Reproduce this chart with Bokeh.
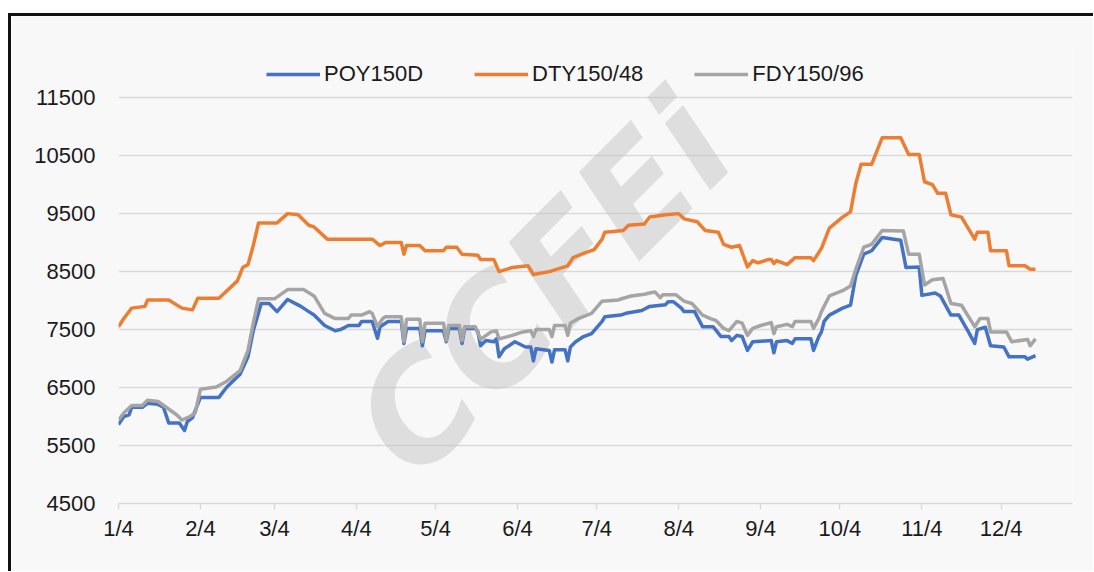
import pandas as pd
from bokeh.plotting import figure
from bokeh.models import Range1d, FixedTicker, Legend, LegendItem, Label
from bokeh.embed import file_html
from bokeh.resources import INLINE

YEAR = "2021"

# ---- x axis ticks (month/day) ----
x_tick_dates = ["01-04", "02-04", "03-04", "04-04", "05-04", "06-04",
                "07-04", "08-04", "09-04", "10-04", "11-04", "12-04"]
x_tick_labels = ["1/4", "2/4", "3/4", "4/4", "5/4", "6/4",
                 "7/4", "8/4", "9/4", "10/4", "11/4", "12/4"]
x_start, x_end = "01-04", "12-31"

y_ticks = [4500, 5500, 6500, 7500, 8500, 9500, 10500, 11500]
y_top = 12400  # head room above the top tick, where the legend sits

# ---- POY150D ----
poy_dates = ["01-04", "01-06", "01-08", "01-09", "01-13", "01-15", "01-19", "01-21", "01-23", "01-27", "01-29", "01-30",
             "02-01", "02-04", "02-11", "02-14", "02-19", "02-22", "02-24", "02-27",
             "03-02", "03-05", "03-09", "03-14", "03-17", "03-19", "03-23", "03-27", "03-29",
             "04-01", "04-05", "04-06", "04-10", "04-12", "04-13", "04-16", "04-21", "04-22", "04-23", "04-28", "04-29", "04-30",
             "05-07", "05-08", "05-09", "05-13", "05-14", "05-15", "05-19", "05-20", "05-21", "05-23", "05-26", "05-27", "05-28", "05-30",
             "06-03", "06-07", "06-09", "06-10", "06-11", "06-16", "06-17", "06-18", "06-22", "06-23", "06-24", "06-26", "06-29",
             "07-02", "07-06", "07-07", "07-13", "07-15", "07-21", "07-24", "07-30", "07-31",
             "08-02", "08-05", "08-06", "08-10", "08-13", "08-17", "08-20", "08-23", "08-24", "08-26", "08-28", "08-30",
             "09-01", "09-08", "09-09", "09-10", "09-14", "09-16", "09-17", "09-23", "09-24", "09-26", "09-27", "09-28", "09-30",
             "10-05", "10-08", "10-10", "10-13", "10-16", "10-20", "10-27", "10-29",
             "11-03", "11-04", "11-09", "11-11", "11-15", "11-18", "11-22", "11-24", "11-25", "11-28", "11-30",
             "12-05", "12-07", "12-13", "12-14", "12-17"]
poy_values = [5860, 6000, 6030, 6160, 6160, 6230, 6210, 6160, 5890, 5890, 5760, 5910,
              5980, 6330, 6330, 6510, 6730, 7030, 7480, 7950,
              7950, 7810, 8020, 7900, 7810, 7750, 7570, 7480, 7500,
              7570, 7570, 7640, 7640, 7350, 7550, 7640, 7640, 7260, 7520, 7520, 7220, 7480,
              7480, 7290, 7520, 7520, 7260, 7520, 7520, 7460, 7220, 7310, 7290, 7340, 7030, 7170,
              7290, 7200, 7200, 6960, 7170, 7140, 6940, 7150, 7150, 6960, 7200, 7290, 7380,
              7430, 7640, 7720, 7750, 7780, 7830, 7900, 7930, 7980,
              7980, 7870, 7810, 7810, 7550, 7550, 7380, 7380, 7310, 7400, 7380, 7140,
              7290, 7310, 7100, 7290, 7310, 7260, 7340, 7340, 7140, 7380, 7460, 7640, 7750,
              7870, 7920, 8430, 8800, 8860, 9090, 9040, 8570,
              8580, 8090, 8130, 8080, 7750, 7750, 7430, 7260, 7500, 7540, 7220,
              7200, 7030, 7030, 6990, 7050]

# ---- DTY150/48 ----
dty_dates = ["01-04", "01-06", "01-09", "01-14", "01-15", "01-23", "01-28",
             "02-01", "02-03", "02-11", "02-18", "02-20", "02-22", "02-24", "02-26",
             "03-05", "03-09", "03-13", "03-17", "03-19", "03-24",
             "04-10", "04-13", "04-15", "04-21", "04-22", "04-23", "04-28", "04-30",
             "05-07", "05-08", "05-12", "05-14", "05-20", "05-21", "05-26", "05-28",
             "06-02", "06-08", "06-10", "06-16", "06-23", "06-25", "06-30",
             "07-03", "07-06", "07-07", "07-14", "07-16", "07-22", "07-24", "07-30",
             "08-04", "08-06", "08-11", "08-14", "08-19", "08-21", "08-24", "08-27", "08-30",
             "09-01", "09-03", "09-07", "09-08", "09-09", "09-10", "09-14", "09-17", "09-23", "09-24", "09-27", "09-30",
             "10-05", "10-08", "10-10", "10-12", "10-16", "10-20", "10-27", "10-30",
             "11-03", "11-05", "11-08", "11-10", "11-13", "11-15", "11-19", "11-24", "11-25", "11-29", "11-30",
             "12-06", "12-07", "12-13", "12-15", "12-17"]
dty_values = [7550, 7690, 7870, 7900, 8010, 8010, 7870,
              7840, 8040, 8040, 8340, 8570, 8620, 8950, 9340,
              9340, 9500, 9480, 9300, 9270, 9060,
              9060, 8950, 9000, 9000, 8800, 8950, 8950, 8860,
              8860, 8920, 8920, 8800, 8780, 8710, 8710, 8500,
              8570, 8600, 8450, 8500, 8600, 8740, 8830,
              8880, 9060, 9180, 9210, 9300, 9320, 9440, 9480,
              9500, 9410, 9360, 9210, 9180, 8970, 8920, 8950, 8580,
              8690, 8650, 8710, 8710, 8640, 8690, 8620, 8740, 8740, 8690, 8900, 9250,
              9440, 9530, 10020, 10350, 10350, 10810, 10810, 10520,
              10520, 10050, 10000, 9850, 9850, 9480, 9440, 9060, 9180, 9180, 8860,
              8860, 8600, 8600, 8540, 8540]

# ---- FDY150/96 ----
fdy_dates = ["01-04", "01-06", "01-09", "01-13", "01-15", "01-19", "01-22", "01-26", "01-28", "01-31",
             "02-02", "02-04", "02-10", "02-14", "02-19", "02-22", "02-24", "02-26",
             "03-04", "03-09", "03-15", "03-19", "03-23", "03-27",
             "04-01", "04-02", "04-06", "04-09", "04-10", "04-12", "04-14", "04-15", "04-21", "04-22", "04-23", "04-28", "04-29", "04-30",
             "05-07", "05-08", "05-09", "05-13", "05-14", "05-15", "05-19", "05-21", "05-25", "05-27", "05-28",
             "06-02", "06-06", "06-09", "06-10", "06-11", "06-16", "06-17", "06-18", "06-22", "06-23", "06-24", "06-27",
             "07-02", "07-06", "07-12", "07-14", "07-17", "07-22", "07-24", "07-26", "07-28", "07-29",
             "08-03", "08-06", "08-09", "08-13", "08-16", "08-18", "08-21", "08-23", "08-26", "08-28", "08-30",
             "09-01", "09-04", "09-08", "09-09", "09-10", "09-14", "09-16", "09-17", "09-23", "09-24", "09-26", "09-27", "09-30",
             "10-05", "10-08", "10-10", "10-13", "10-16", "10-20", "10-28", "10-30",
             "11-03", "11-05", "11-08", "11-12", "11-15", "11-19", "11-24", "11-26", "11-29", "11-30",
             "12-06", "12-08", "12-14", "12-15", "12-17"]
fdy_values = [5940, 6060, 6190, 6190, 6280, 6260, 6160, 6030, 5940, 6000,
              6060, 6470, 6510, 6610, 6790, 7140, 7610, 8030,
              8030, 8190, 8190, 8080, 7780, 7690,
              7690, 7750, 7750, 7810, 7780, 7550, 7690, 7720, 7720, 7290, 7680, 7680, 7290, 7610,
              7610, 7310, 7570, 7570, 7310, 7550, 7550, 7330, 7460, 7480, 7340,
              7400, 7460, 7480, 7380, 7500, 7500, 7380, 7570, 7570, 7400, 7610, 7690,
              7780, 7990, 8010, 8040, 8080, 8110, 8130, 8150, 8050, 8100,
              8100, 7990, 7950, 7750, 7690, 7660, 7520, 7480, 7640, 7610, 7400,
              7520, 7570, 7620, 7430, 7550, 7590, 7550, 7640, 7640, 7520, 7690, 7810, 8080,
              8170, 8250, 8540, 8920, 8970, 9210, 9200, 8800,
              8800, 8270, 8360, 8380, 7950, 7920, 7550, 7690, 7690, 7460,
              7460, 7290, 7330, 7220, 7340]

series_names = ["POY150D", "DTY150/48", "FDY150/96"]
series_colors = ["#4472C4", "#ED7D31", "#A5A5A5"]


def to_dt(md_list):
    return pd.to_datetime([f"{YEAR}-{md}" for md in md_list])


FONT = "Liberation Sans"
BG = "#f8f8f8"

p = figure(width=1085, height=558, x_axis_type="datetime",
           x_range=Range1d(to_dt([x_start])[0], to_dt([x_end])[0]),
           y_range=Range1d(y_ticks[0], y_top),
           output_backend="svg", toolbar_location=None,
           min_border_left=107, min_border_right=24, min_border_top=29, min_border_bottom=71,
           background_fill_color=BG, border_fill_color=BG, outline_line_color=None)
p.margin = (13, 0, 0, 8)
p.styles = {"border-left": "3px solid #111111", "border-top": "3px solid #111111"}

# watermark (decorative)
p.add_layout(Label(x=425, y=218, x_units="screen", y_units="screen", text="CCFEi",
                   angle=45, angle_units="deg", text_align="center", text_baseline="middle",
                   text_font="DejaVu Sans", text_font_style="bold italic",
                   text_font_size="145px", text_color="#c4c4c4", text_alpha=0.5,
                   level="underlay"))

# axes
p.yaxis.ticker = FixedTicker(ticks=y_ticks)
p.yaxis.axis_line_color = None
p.yaxis.major_tick_line_color = None
p.yaxis.minor_tick_line_color = None
p.yaxis.major_label_standoff = 17
p.yaxis.major_label_text_font = FONT
p.yaxis.major_label_text_font_size = "22px"
p.yaxis.major_label_text_color = "#1a1a1a"

tick_dt = to_dt(x_tick_dates)
tick_ms = [int(t.value // 10**6) for t in tick_dt]
p.xaxis.ticker = FixedTicker(ticks=tick_ms, minor_ticks=[])
p.xaxis.major_label_overrides = {ms: lab for ms, lab in zip(tick_ms, x_tick_labels)}
p.xaxis.axis_line_color = "#d9d9d9"
p.xaxis.axis_line_width = 1.5
p.xaxis.major_tick_line_color = "#d9d9d9"
p.xaxis.major_tick_line_width = 1.5
p.xaxis.major_tick_in = 0
p.xaxis.major_tick_out = 6
p.xaxis.minor_tick_line_color = None
p.xaxis.major_label_standoff = 6
p.xaxis.major_label_text_font = FONT
p.xaxis.major_label_text_font_size = "22px"
p.xaxis.major_label_text_color = "#1a1a1a"

p.xgrid.grid_line_color = None
p.ygrid.ticker = FixedTicker(ticks=y_ticks)
p.ygrid.grid_line_color = "#d9d9d9"
p.ygrid.grid_line_width = 1.5

items = []
for name, color, dates, vals in zip(series_names, series_colors,
                                    [poy_dates, dty_dates, fdy_dates],
                                    [poy_values, dty_values, fdy_values]):
    r = p.line(to_dt(dates), vals, line_color=color, line_width=3.5, line_join="round")
    items.append(LegendItem(label=name, renderers=[r]))

legend = Legend(items=items, orientation="horizontal", location=(148, 416),
                glyph_width=54, glyph_height=26, label_height=26, label_standoff=4,
                spacing=51, padding=0, margin=0,
                label_text_font=FONT, label_text_font_size="22px", label_text_color="#1a1a1a",
                background_fill_alpha=0, border_line_color=None)
p.add_layout(legend, "center")

open("out.html", "w").write(file_html(p, INLINE))
